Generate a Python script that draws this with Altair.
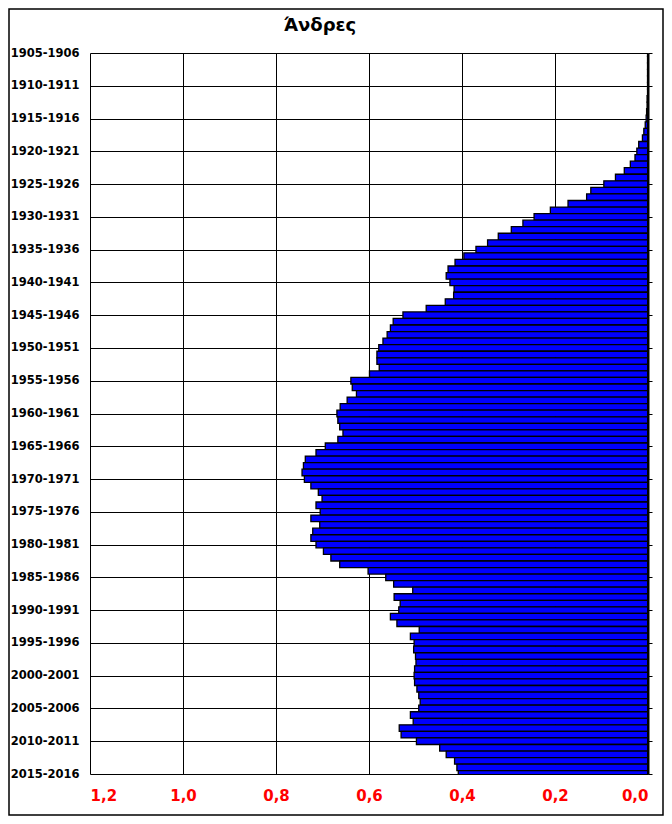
import altair as alt
import pandas as pd

years = list(range(1905, 2016))
values = [
    0.001, 0.001, 0.001, 0.001, 0.001, 0.001, 0.001, 0.002, 0.002, 0.003,  # 1905-1914
    0.004, 0.006, 0.009, 0.012, 0.020, 0.024, 0.028, 0.038, 0.051, 0.070,  # 1915-1924
    0.095, 0.123, 0.132, 0.172, 0.210, 0.245, 0.269, 0.294, 0.322, 0.345,  # 1925-1934
    0.370, 0.396, 0.415, 0.430, 0.434, 0.426, 0.417, 0.418, 0.436, 0.477,  # 1935-1944
    0.527, 0.548, 0.554, 0.561, 0.570, 0.579, 0.583, 0.583, 0.578, 0.599,  # 1945-1954
    0.639, 0.636, 0.627, 0.647, 0.662, 0.669, 0.667, 0.663, 0.656, 0.667,  # 1955-1964
    0.694, 0.714, 0.737, 0.741, 0.744, 0.739, 0.725, 0.709, 0.701, 0.714,  # 1965-1974
    0.705, 0.725, 0.706, 0.721, 0.725, 0.714, 0.698, 0.682, 0.663, 0.602,  # 1975-1984
    0.564, 0.547, 0.506, 0.546, 0.533, 0.536, 0.554, 0.540, 0.492, 0.511,  # 1985-1994
    0.503, 0.504, 0.500, 0.499, 0.502, 0.503, 0.502, 0.497, 0.493, 0.490,  # 1995-2004
    0.493, 0.511, 0.505, 0.535, 0.531, 0.498, 0.448, 0.434, 0.416, 0.411,  # 2005-2014
    0.408,                                                                 # 2015
]
label_years = list(range(1905, 2016, 5))
x_ticks = [0.0, 0.2, 0.4, 0.6, 0.8, 1.0, 1.2]
title_text = "Άνδρες"

df = pd.DataFrame({"year": years, "v": values})
df["lo"] = df["year"] - 0.5
df["hi"] = df["year"] + 0.5

W, H = 558, 721
PL, PT, PR, PB = 82, 45, 16, 42
FONT = "DejaVu Sans"

yscale = alt.Scale(domain=[1905, 2015], reverse=True, nice=False, zero=False)
xscale = alt.Scale(domain=[0, 1.2], reverse=True, nice=False)

bars = alt.Chart(df).mark_rect(
    fill="#0000FF", stroke="black", strokeWidth=1.3, clip=True
).encode(
    x=alt.X("v:Q", scale=xscale, title=None,
            axis=alt.Axis(values=x_ticks, grid=True, gridColor="black", gridWidth=1,
                          gridOpacity=1, domain=False, ticks=False,
                          labelExpr="replace(format(datum.value, '.1f'), '.', ',')",
                          labelColor="#FF0000", labelFont=FONT, labelFontWeight="bold",
                          labelFontSize=15, labelPadding=14)),
    x2=alt.datum(0),
    y=alt.Y("lo:Q", scale=yscale, title=None,
            axis=alt.Axis(values=label_years, grid=True, gridColor="black", gridWidth=1,
                          gridOpacity=1, domain=False, ticks=False,
                          labelExpr="datum.value + '-' + (datum.value + 1)",
                          labelColor="black", labelFont=FONT, labelFontWeight="bold",
                          labelFontSize=11.5, labelPadding=11, labelBaseline="middle")),
    y2="hi:Q",
)

right_line = alt.Chart(df).mark_rule(color="black", strokeWidth=2, clip=True).encode(
    x=alt.X("zero:Q", scale=xscale),
    y=alt.Y("lo:Q", scale=yscale,
            axis=alt.Axis(orient="right", values=label_years, labels=False, grid=False,
                          ticks=True, tickSize=4, tickColor="black", tickWidth=1,
                          domain=True, domainColor="black", domainWidth=2, title=None)),
    y2="hi:Q",
).transform_calculate(zero="0")

title = alt.Chart(pd.DataFrame({"t": [title_text]})).mark_text(
    font=FONT, fontSize=18, fontWeight="bold", color="black",
    align="center", baseline="middle"
).encode(text="t:N", x=alt.value(230), y=alt.value(-27))

frame = alt.Chart(pd.DataFrame({"a": [0]})).mark_rect(
    fill=None, stroke="black", strokeWidth=1.5, clip=False
).encode(
    x=alt.value(-PL + 1), x2=alt.value(W + PR - 1),
    y=alt.value(-PT + 1), y2=alt.value(H + PB - 1),
)

chart = alt.layer(bars, right_line, title, frame).resolve_axis(y="independent").properties(
    width=W, height=H,
    autosize=alt.AutoSizeParams(type="none"),
    padding={"left": PL, "top": PT, "right": PR, "bottom": PB},
    background="white",
).configure_view(stroke=None)

chart.save("out.html", embed_options={"renderer": "svg", "actions": False})
